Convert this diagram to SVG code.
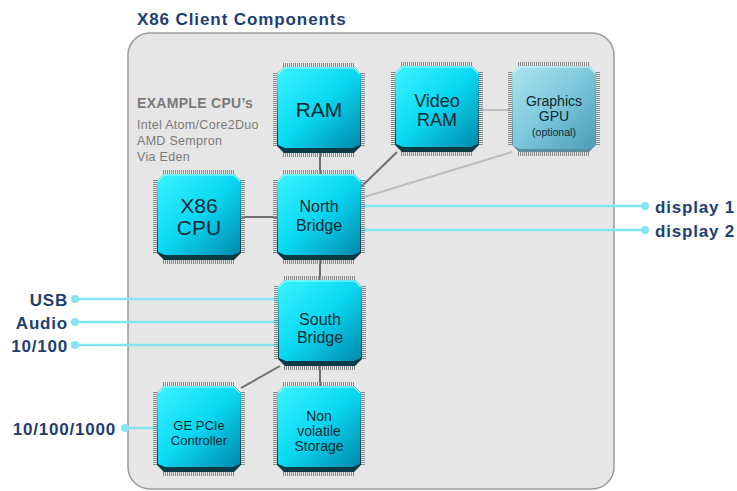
<svg xmlns="http://www.w3.org/2000/svg" xmlns:xlink="http://www.w3.org/1999/xlink" width="737" height="491" viewBox="0 0 737 491">
<style>
.title{font-family:"Liberation Sans",Arial,sans-serif;font-weight:bold;font-size:17px;letter-spacing:0.9px;fill:#1f3f70}
.lbl{font-family:"Liberation Sans",Arial,sans-serif;font-weight:bold;font-size:17px;letter-spacing:0.8px;fill:#1f3f70}
.ex{font-family:"Liberation Sans",Arial,sans-serif;font-size:12.5px;letter-spacing:0.3px;fill:#7a7a7a}
.exh{font-family:"Liberation Sans",Arial,sans-serif;font-weight:bold;font-size:14px;letter-spacing:0.3px;fill:#7a7a7a}
.ct{font-family:"Liberation Sans",Arial,sans-serif;fill:#102830;text-anchor:middle}
.wire{stroke:#6f6f6f;stroke-width:2;fill:none}
.wirel{stroke:#bdbdbd;stroke-width:2;fill:none}
.sig{stroke:#86e4f2;stroke-width:2.5;fill:none}
.dot{fill:#86e4f2}
</style>
<defs>
<pattern id="pv" width="2" height="4" patternUnits="userSpaceOnUse"><rect width="1" height="4" fill="#8a8a8a"/></pattern>
<pattern id="ph" width="4" height="2" patternUnits="userSpaceOnUse"><rect width="4" height="1" fill="#8a8a8a"/></pattern>
<linearGradient id="gc" x1="0" y1="0" x2="1" y2="1">
<stop offset="0" stop-color="#3af4ff"/>
<stop offset="0.5" stop-color="#0ad8f2"/>
<stop offset="1" stop-color="#0088aa"/>
</linearGradient>
<linearGradient id="gg" x1="0" y1="0" x2="1" y2="1">
<stop offset="0" stop-color="#aee4ee"/>
<stop offset="0.5" stop-color="#7cc8dc"/>
<stop offset="1" stop-color="#4a9cb6"/>
</linearGradient>
<g id="pins">
<rect x="-4" y="6" width="92" height="74" fill="url(#ph)"/>
<rect x="6" y="-4" width="72" height="94" fill="url(#pv)"/>
</g>
<g id="chip">
<use xlink:href="#pins"/>
<polygon points="7,0 77,0 84,7 84,79 77,86 7,86 0,79 0,7" fill="#0c3b48"/>
<polygon points="7,0 77,0 84,7 83,78 76,81 8,81 1,78 0,7" fill="url(#gc)"/>
<polyline points="1,7 7,1 77,1 83,7" fill="none" stroke="#a8fbff" stroke-width="1.2"/>
</g>
<g id="chipg">
<use xlink:href="#pins"/>
<polygon points="7,0 77,0 84,7 84,79 77,86 7,86 0,79 0,7" fill="#5a8e9e"/>
<polygon points="7,0 77,0 84,7 83,80 76,83 8,83 1,80 0,7" fill="url(#gg)"/>
<polyline points="1,7 7,1 77,1 83,7" fill="none" stroke="#d8f6fb" stroke-width="1.2"/>
</g>
</defs>
<rect width="737" height="491" fill="#ffffff"/>
<text class="title" x="137" y="25">X86 Client Components</text>
<rect id="panel" x="128" y="33" width="486" height="456" rx="22" fill="#e6e6e6" stroke="#9a9a9a" stroke-width="1.5"/>
<g id="example">
<text class="exh" x="137" y="108">EXAMPLE CPU’s</text>
<text class="ex" x="137" y="129">Intel Atom/Core2Duo</text>
<text class="ex" x="137" y="145">AMD Sempron</text>
<text class="ex" x="137" y="161">Via Eden</text>
</g>
<g id="connectors">
<line class="wire" x1="320" y1="153" x2="320" y2="175"/>
<line class="wire" x1="242" y1="217" x2="278" y2="217"/>
<line class="wire" x1="320" y1="258" x2="320" y2="280"/>
<line class="wire" x1="320" y1="365" x2="320" y2="387"/>
<line class="wire" x1="280" y1="366" x2="241" y2="388"/>
<line class="wire" x1="361" y1="187" x2="397" y2="152"/>
<line class="wirel" x1="480" y1="110" x2="510" y2="110"/>
<line class="wirel" x1="361" y1="198" x2="512" y2="152"/>
<line class="sig" x1="362" y1="206" x2="645" y2="206"/>
<line class="sig" x1="362" y1="230" x2="645" y2="230"/>
<line class="sig" x1="75" y1="299" x2="279" y2="299"/>
<line class="sig" x1="75" y1="322" x2="279" y2="322"/>
<line class="sig" x1="75" y1="345" x2="279" y2="345"/>
<line class="sig" x1="125" y1="428" x2="158" y2="428"/>
<circle class="dot" cx="362" cy="206" r="3.5"/>
<circle class="dot" cx="645" cy="206" r="4"/>
<circle class="dot" cx="362" cy="230" r="3.5"/>
<circle class="dot" cx="645" cy="230" r="4"/>
<circle class="dot" cx="75" cy="299" r="4"/>
<circle class="dot" cx="279" cy="299" r="3.5"/>
<circle class="dot" cx="75" cy="322" r="4"/>
<circle class="dot" cx="279" cy="322" r="3.5"/>
<circle class="dot" cx="75" cy="345" r="4"/>
<circle class="dot" cx="279" cy="345" r="3.5"/>
<circle class="dot" cx="125" cy="428" r="4"/>
<circle class="dot" cx="158" cy="428" r="3.5"/>
</g>
<g id="ram" transform="translate(277,67)">
<use xlink:href="#chip"/>
<text class="ct" x="42" y="50" font-size="21">RAM</text>
</g>
<g id="vram" transform="translate(395,66)">
<use xlink:href="#chip"/>
<text class="ct" x="42" y="41" font-size="18">Video</text>
<text class="ct" x="42" y="60" font-size="18">RAM</text>
</g>
<g id="gpu" transform="translate(512,66)">
<use xlink:href="#chipg"/>
<text class="ct" x="42" y="40" font-size="14" fill="#2a3c44">Graphics</text>
<text class="ct" x="42" y="55" font-size="14" fill="#2a3c44">GPU</text>
<text class="ct" x="42" y="70" font-size="10.5" fill="#2a3c44">(optional)</text>
</g>
<g id="cpu" transform="translate(157,174)">
<use xlink:href="#chip"/>
<text class="ct" x="42" y="39" font-size="21">X86</text>
<text class="ct" x="42" y="61" font-size="21">CPU</text>
</g>
<g id="northbridge" transform="translate(277,174)">
<use xlink:href="#chip"/>
<text class="ct" x="42" y="38" font-size="16">North</text>
<text class="ct" x="42" y="57" font-size="16">Bridge</text>
</g>
<g id="southbridge" transform="translate(278,280)">
<use xlink:href="#chip"/>
<text class="ct" x="42" y="45" font-size="16">South</text>
<text class="ct" x="42" y="63" font-size="16">Bridge</text>
</g>
<g id="gepcie" transform="translate(157,386)">
<use xlink:href="#chip"/>
<text class="ct" x="42" y="44" font-size="13">GE PCIe</text>
<text class="ct" x="42" y="59" font-size="13">Controller</text>
</g>
<g id="storage" transform="translate(277,386)">
<use xlink:href="#chip"/>
<text class="ct" x="42" y="35" font-size="14">Non</text>
<text class="ct" x="42" y="50" font-size="14">volatile</text>
<text class="ct" x="42" y="65" font-size="14">Storage</text>
</g>
<g id="labels">
<text class="lbl" x="655" y="213">display 1</text>
<text class="lbl" x="655" y="237">display 2</text>
<text class="lbl" x="68" y="306" text-anchor="end">USB</text>
<text class="lbl" x="68" y="329" text-anchor="end">Audio</text>
<text class="lbl" x="68" y="352" text-anchor="end">10/100</text>
<text class="lbl" x="116" y="435" text-anchor="end">10/100/1000</text>
</g>
</svg>
